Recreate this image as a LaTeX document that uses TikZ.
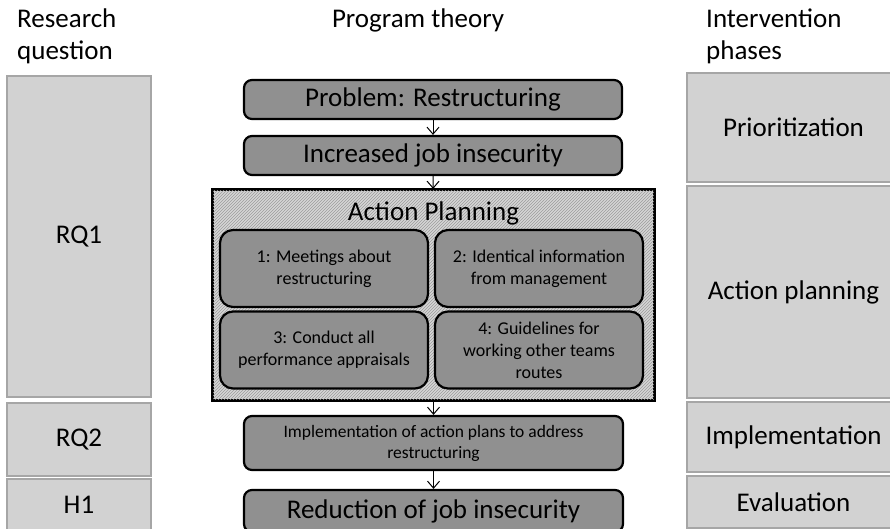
\documentclass[tikz,border=0pt]{standalone}
\usepackage{fontspec}
\setmainfont{Carlito}
\usetikzlibrary{arrows.meta,patterns}

\definecolor{colfill}{HTML}{D2D2D2}
\definecolor{colline}{HTML}{A6A6A6}
\definecolor{stepfill}{HTML}{909090}
\definecolor{planfill}{HTML}{D6D6D6}
\definecolor{planhatch}{HTML}{9C9C9C}

\newcommand{\bigtxt}{\fontsize{27}{32}\selectfont}
\newcommand{\smalltxt}{\fontsize{18}{22}\selectfont}

\begin{document}
\begin{tikzpicture}[x=1pt,y=-1pt,
    colbox/.style={draw=colline,line width=2pt,fill=colfill,inner sep=0pt,font=\bigtxt},
    stepbox/.style={draw=black,line width=2.2pt,fill=stepfill,rounded corners=8pt,inner sep=0pt,font=\bigtxt},
    subbox/.style={draw=black,line width=2.2pt,fill=stepfill,rounded corners=13pt,inner sep=0pt,
      minimum width=208pt,minimum height=77pt,align=center,font=\smalltxt},
    heading/.style={anchor=north west,align=left,inner sep=0pt,font=\bigtxt},
    flow/.style={line width=1pt,-{Straight Barb[length=7pt,width=12pt,line width=1pt]}}]
  \useasboundingbox (0,0) rectangle (890,528);

  % column headings
  \node[heading] (hleft) at (17,9) {Research\\question};
  \node[anchor=base,font=\bigtxt] (hmid) at (418,27) {Program theory};
  \node[heading] (hright) at (706,9) {Intervention\\phases};

  % research questions
  \node[colbox,minimum width=144pt,minimum height=321pt] (rq1) at (79,236.5) {RQ1};
  \node[colbox,minimum width=144pt,minimum height=73pt] (rq2) at (79,439.5) {RQ2};
  \node[colbox,minimum width=144pt,minimum height=52pt] (h1) at (79,505) {H1};

  % intervention phases
  \node[colbox,minimum width=213pt,minimum height=109pt] (prio) at (793.5,127.5) {Prioritization};
  \node[colbox,minimum width=213pt,minimum height=212pt] (plan) at (793.5,292) {Action planning};
  \node[colbox,minimum width=213pt,minimum height=70pt] (impl) at (793.5,437) {Implementation};
  \node[colbox,minimum width=213pt,minimum height=52pt] (eval) at (793.5,502) {Evaluation};

  % program theory
  \node[stepbox,minimum width=378pt,minimum height=39pt] (problem) at (433,99.5) {Problem: Restructuring};
  \node[stepbox,minimum width=378pt,minimum height=39pt] (increase) at (433,155.5) {Increased job insecurity};

  \node[draw=black,line width=2.2pt,fill=planfill,minimum width=441pt,minimum height=210pt,inner sep=0pt]
    (action) at (433.5,295) {};
  \fill[pattern=north east lines,pattern color=planhatch] (action.south west) rectangle (action.north east);
  \draw[line width=2.2pt] (action.south west) rectangle (action.north east);
  \node[anchor=center,font=\bigtxt] (atitle) at (433.5,213) {Action Planning};

  \node[subbox] (a1) at (324,268.5) {1: Meetings about\\restructuring};
  \node[subbox] (a2) at (539,268.5) {2: Identical information\\from management};
  \node[subbox] (a3) at (324,350) {3: Conduct all\\performance appraisals};
  \node[subbox] (a4) at (539,350) {4: Guidelines for\\working other teams\\routes};

  \node[stepbox,minimum width=379pt,minimum height=54pt,align=center,font=\fontsize{17.5}{21}\selectfont]
    (implement) at (433.5,443) {Implementation of action plans to address\\restructuring};
  \node[stepbox,minimum width=379pt,minimum height=42pt] (reduce) at (433.5,511)
    {\raisebox{1pt}{Reduction of job insecurity}};

  \draw[flow] (problem) -- (increase);
  \draw[flow] (increase) -- (action);
  \draw[flow] (action) -- (implement);
  \draw[flow] (implement) -- (reduce);
\end{tikzpicture}
\end{document}
